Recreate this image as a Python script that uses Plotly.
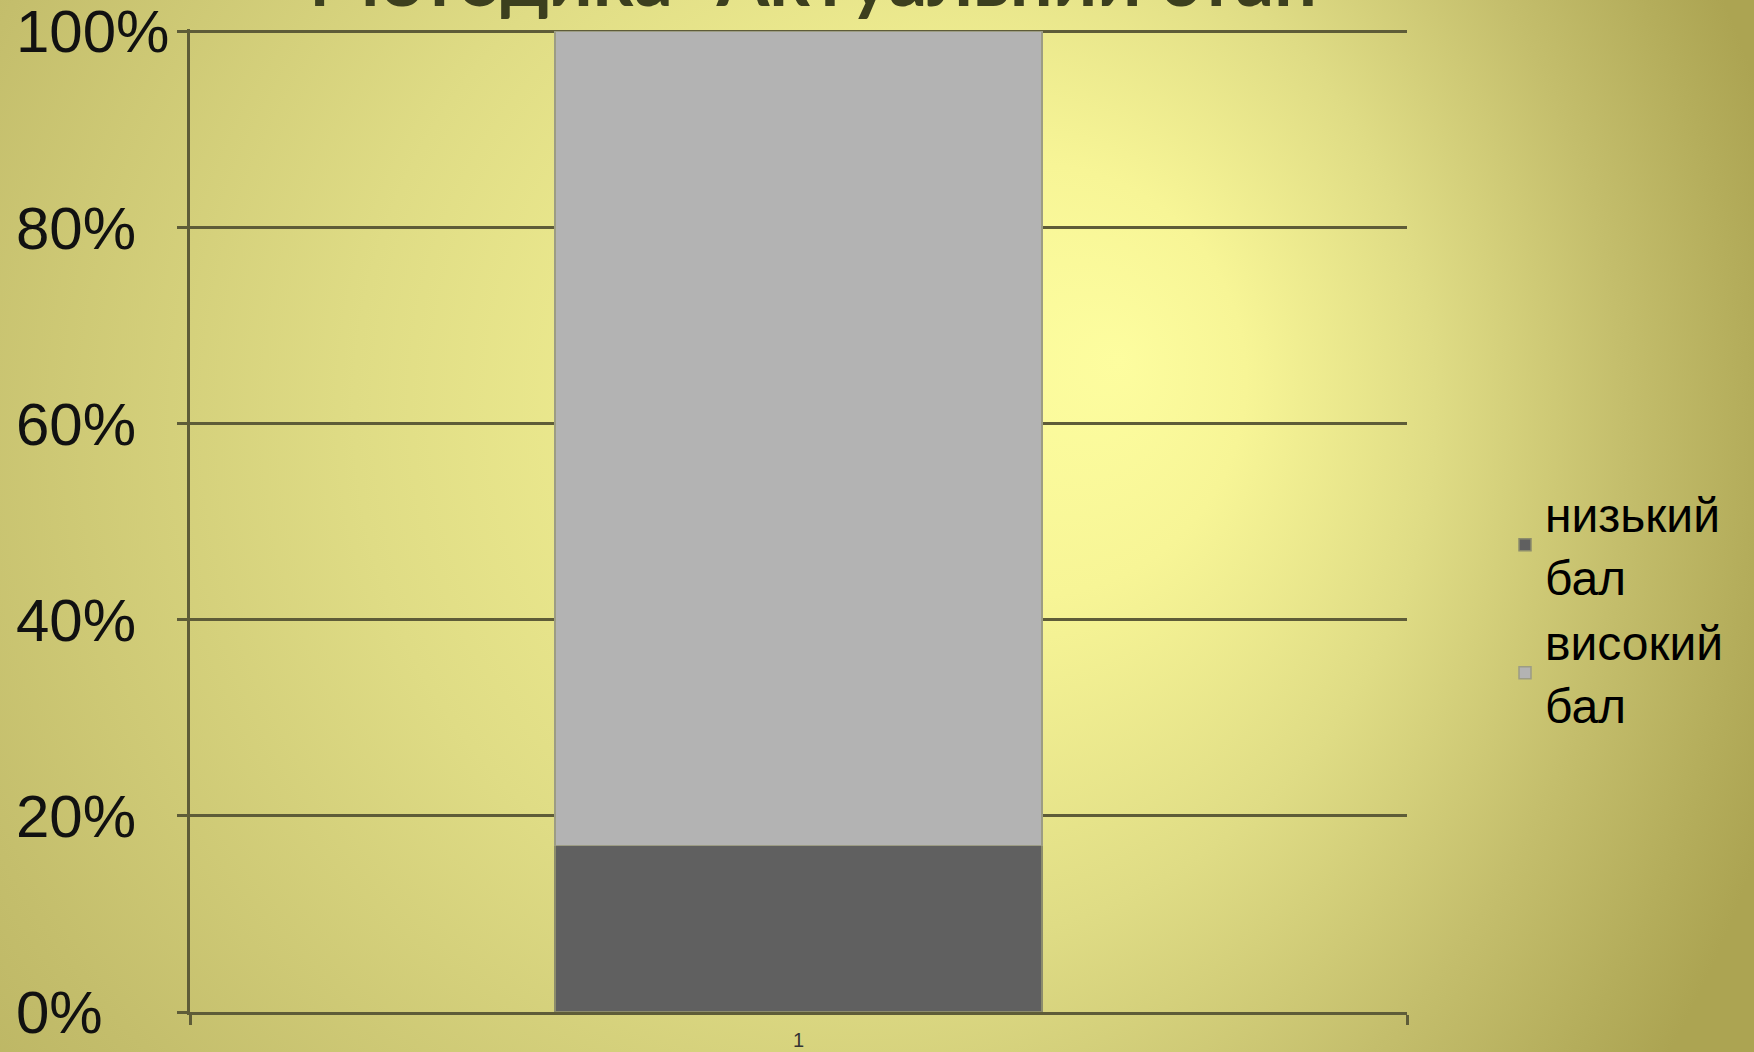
import base64
import plotly.graph_objects as go

# ---- data ----
categories = ["1"]
series_names = ["низький<br>бал", "високий<br>бал"]
low_values = [17]
high_values = [83]
tick_values = [0, 20, 40, 60, 80, 100]
tick_labels = ["0%", "20%", "40%", "60%", "80%", "100%"]
title_text = 'Методика "Актуальний стан"'

W, H = 1754, 1052
Y_TOP = 100.25
ML, MR, MB = 15, 0, 40
PH = round((1012 - 31) * Y_TOP / 100)
MT = H - MB - PH
PW = W - ML - MR

# background radial gradient (SVG)
svg = f'''<svg xmlns="http://www.w3.org/2000/svg" width="{W}" height="{H}" viewBox="0 0 {W} {H}">
<defs><radialGradient id="g" gradientUnits="userSpaceOnUse" cx="620" cy="470" r="1200" fx="1120" fy="360">
<stop offset="0" stop-color="#fdfd9f"/>
<stop offset="0.18" stop-color="#f7f596"/>
<stop offset="0.45" stop-color="#dfdc85"/>
<stop offset="0.72" stop-color="#c4be6c"/>
<stop offset="0.9" stop-color="#b4ad5b"/>
<stop offset="1" stop-color="#aca452"/>
</radialGradient></defs>
<rect width="{W}" height="{H}" fill="url(#g)"/></svg>'''
bg_src = "data:image/svg+xml;base64," + base64.b64encode(svg.encode()).decode()

grid_col = "#5e5c38"

fig = go.Figure()
fig.add_trace(go.Bar(x=categories, y=low_values, name=series_names[0],
                     marker=dict(color="#606060", line=dict(color="#8c8c6c", width=1.5))))
fig.add_trace(go.Bar(x=categories, y=high_values, name=series_names[1],
                     marker=dict(color="#b3b3b3", line=dict(color="#9c9c84", width=1.5))))
# helper trace so the label axis is drawn
fig.add_trace(go.Scatter(x=categories, y=[None], yaxis="y2", showlegend=False,
                         hoverinfo="skip", mode="markers"))

x0 = (190 - ML) / PW
x1 = (1407 - ML) / PW

fig.update_layout(
    width=W, height=H,
    margin=dict(l=ML, r=MR, t=MT, b=MB, autoexpand=False),
    paper_bgcolor="#d8d480",
    plot_bgcolor="rgba(0,0,0,0)",
    barmode="stack",
    bargap=0.6,
    showlegend=True,
    font=dict(family="Liberation Sans, Arial, sans-serif", color="#111111"),
    xaxis=dict(domain=[x0, x1], type="category", showgrid=False,
               showline=True, linecolor=grid_col, linewidth=2.5,
               ticks="outside", tickson="boundaries", ticklen=10, tickwidth=2.5,
               tickcolor=grid_col, tickfont=dict(size=20, color="#333333"),
               ticklabelstandoff=8, fixedrange=True),
    yaxis=dict(range=[0, Y_TOP], tickvals=tick_values, showticklabels=False,
               showgrid=True, gridcolor=grid_col, gridwidth=2.5,
               showline=True, linecolor=grid_col, linewidth=2.5,
               ticks="outside", ticklen=10, tickwidth=2.5, tickcolor=grid_col,
               zeroline=False, fixedrange=True),
    yaxis2=dict(range=[0, Y_TOP], overlaying="y", anchor="free", position=0,
                side="right", tickvals=tick_values, ticktext=tick_labels,
                showgrid=False, showline=False, ticks="", zeroline=False,
                ticklabeloverflow="allow",
                tickfont=dict(size=60, color="#111111"), automargin=False,
                fixedrange=True),
    legend=dict(x=(1505 - ML) / PW, xanchor="left", y=0.41, yanchor="middle",
                traceorder="normal", bgcolor="rgba(0,0,0,0)",
                font=dict(size=48, color="#000000"), tracegroupgap=0),
    images=[dict(source=bg_src, xref="paper", yref="paper",
                 x=-ML / PW, y=1 + MT / PH, sizex=W / PW, sizey=H / PH,
                 xanchor="left", yanchor="top", sizing="stretch", layer="below")],
    annotations=[dict(text=f"<b>{title_text}</b>", xref="paper", yref="paper",
                      x=(828 - ML) / PW, xanchor="center",
                      y=1 + (MT + 24) / PH, yanchor="middle", showarrow=False,
                      font=dict(family="Lato, Open Sans, sans-serif", size=76,
                                color="#3c3f1e"))],
)

fig.write_html("out.html", config={"displayModeBar": False},
               post_script="document.body.style.margin='0';")
